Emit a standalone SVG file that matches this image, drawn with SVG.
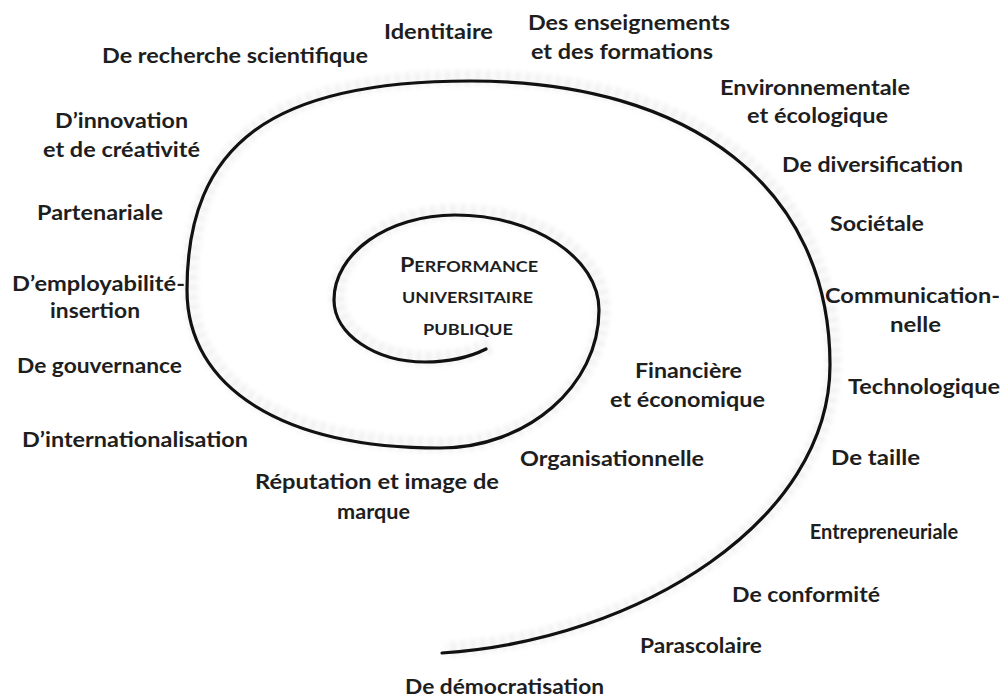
<svg xmlns="http://www.w3.org/2000/svg" width="1004" height="698" viewBox="0 0 1004 698">
<defs>
<style>
.lbl{font-family:Lato,"Liberation Sans",sans-serif;font-weight:700;font-size:20px;fill:#1e1e1e}
.sc{font-family:Lato,"Liberation Sans",sans-serif;font-weight:700;fill:#1e1e1e}
.spiral{fill:none;stroke:#111;stroke-width:3.2;stroke-linecap:round}
.halo{fill:none;stroke:#c8c8c8;stroke-width:16;stroke-dasharray:3 2 1 4;opacity:0.4}
</style>
<filter id="soft" x="-5%" y="-5%" width="110%" height="110%"><feGaussianBlur stdDeviation="2"/></filter>
</defs>
<rect width="1004" height="698" fill="#fff"/>
<g id="spiral">
<path class="halo" filter="url(#soft)" transform="translate(3,-3)" d="M486,349 C468,358 445,362 425,362 C375,362 334,334 334,300 C334,253 388,215 455,215 C534,215 599,258 599,310 C599,386 527,448 440,448 C283,448 187,388 187,290 C187,144 272,81 470,81 C693,81 830,189 830,365 C830,520 640,640 442,653"/>
<path class="spiral" d="M486,349 C468,358 445,362 425,362 C375,362 334,334 334,300 C334,253 388,215 455,215 C534,215 599,258 599,310 C599,386 527,448 440,448 C283,448 187,388 187,290 C187,144 272,81 470,81 C693,81 830,189 830,365 C830,520 640,640 442,653"/>
</g>
<g id="center">
<text class="sc" x="400" y="272" textLength="138" lengthAdjust="spacingAndGlyphs"><tspan font-size="20">P</tspan><tspan font-size="15.5">ERFORMANCE</tspan></text>
<text class="sc" x="402" y="303" font-size="15.5" textLength="131" lengthAdjust="spacingAndGlyphs">UNIVERSITAIRE</text>
<text class="sc" x="423" y="335" font-size="15.5" textLength="90" lengthAdjust="spacingAndGlyphs">PUBLIQUE</text>
</g>
<g id="n-identitaire"><text class="lbl" x="384" y="39" textLength="109" lengthAdjust="spacingAndGlyphs">Identitaire</text></g>
<g id="n-recherche"><text class="lbl" x="102" y="63" textLength="266" lengthAdjust="spacingAndGlyphs">De recherche scientifique</text></g>
<g id="n-enseignements"><text class="lbl" x="528" y="30" textLength="202" lengthAdjust="spacingAndGlyphs">Des enseignements</text><text class="lbl" x="531" y="59" textLength="182" lengthAdjust="spacingAndGlyphs">et des formations</text></g>
<g id="n-environnementale"><text class="lbl" x="720" y="95" textLength="190" lengthAdjust="spacingAndGlyphs">Environnementale</text><text class="lbl" x="747" y="123" textLength="141" lengthAdjust="spacingAndGlyphs">et écologique</text></g>
<g id="n-diversification"><text class="lbl" x="782" y="172" textLength="181" lengthAdjust="spacingAndGlyphs">De diversification</text></g>
<g id="n-societale"><text class="lbl" x="830" y="231" textLength="94" lengthAdjust="spacingAndGlyphs">Sociétale</text></g>
<g id="n-communication"><text class="lbl" x="825" y="303" textLength="175" lengthAdjust="spacingAndGlyphs">Communication-</text><text class="lbl" x="890" y="332" textLength="51" lengthAdjust="spacingAndGlyphs">nelle</text></g>
<g id="n-technologique"><text class="lbl" x="848" y="394" textLength="152" lengthAdjust="spacingAndGlyphs">Technologique</text></g>
<g id="n-taille"><text class="lbl" x="831" y="465" textLength="89" lengthAdjust="spacingAndGlyphs">De taille</text></g>
<g id="n-entrepreneuriale"><text class="lbl" x="884" y="539" text-anchor="middle">Entrepreneuriale</text></g>
<g id="n-conformite"><text class="lbl" x="732" y="602" textLength="148" lengthAdjust="spacingAndGlyphs">De conformité</text></g>
<g id="n-parascolaire"><text class="lbl" x="640" y="653" textLength="122" lengthAdjust="spacingAndGlyphs">Parascolaire</text></g>
<g id="n-democratisation"><text class="lbl" x="405" y="694" textLength="199" lengthAdjust="spacingAndGlyphs">De démocratisation</text></g>
<g id="n-innovation"><text class="lbl" x="55" y="128" textLength="133" lengthAdjust="spacingAndGlyphs">D’innovation</text><text class="lbl" x="43" y="157" textLength="157" lengthAdjust="spacingAndGlyphs">et de créativité</text></g>
<g id="n-partenariale"><text class="lbl" x="37" y="220" textLength="126" lengthAdjust="spacingAndGlyphs">Partenariale</text></g>
<g id="n-employabilite"><text class="lbl" x="12" y="291" textLength="173" lengthAdjust="spacingAndGlyphs">D’employabilité-</text><text class="lbl" x="50" y="318" textLength="90" lengthAdjust="spacingAndGlyphs">insertion</text></g>
<g id="n-gouvernance"><text class="lbl" x="17" y="373" textLength="165" lengthAdjust="spacingAndGlyphs">De gouvernance</text></g>
<g id="n-internationalisation"><text class="lbl" x="22" y="447" textLength="226" lengthAdjust="spacingAndGlyphs">D’internationalisation</text></g>
<g id="n-reputation"><text class="lbl" x="255" y="489" textLength="244" lengthAdjust="spacingAndGlyphs">Réputation et image de</text><text class="lbl" x="337" y="519" textLength="73" lengthAdjust="spacingAndGlyphs">marque</text></g>
<g id="n-organisationnelle"><text class="lbl" x="520" y="466" textLength="184" lengthAdjust="spacingAndGlyphs">Organisationnelle</text></g>
<g id="n-financiere"><text class="lbl" x="635" y="378" textLength="107" lengthAdjust="spacingAndGlyphs">Financière</text><text class="lbl" x="610" y="407" textLength="155" lengthAdjust="spacingAndGlyphs">et économique</text></g>
</svg>
